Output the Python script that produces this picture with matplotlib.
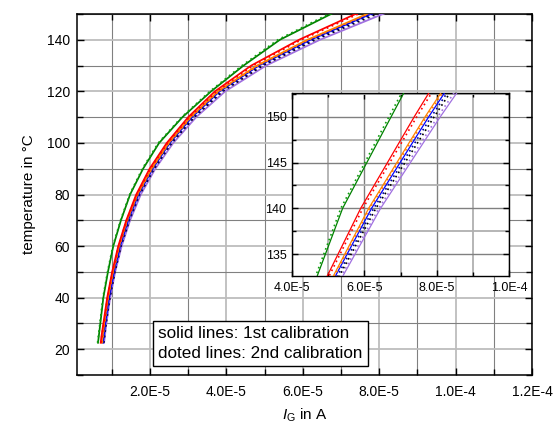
import numpy as np
import matplotlib
matplotlib.use("Agg")
import matplotlib.pyplot as plt
from matplotlib.ticker import MultipleLocator, FuncFormatter

plt.rcParams['font.family'] = ['Liberation Sans', 'DejaVu Sans']
plt.rcParams['mathtext.fontset'] = 'custom'
plt.rcParams['mathtext.rm'] = 'Liberation Sans'
plt.rcParams['mathtext.it'] = 'Liberation Sans:italic'

# temperature samples (°C)
temperature = [22.5, 25, 30, 35, 40, 50, 60, 70, 80, 90, 100, 110, 120, 130, 140, 150, 154]

# I_G in units of 1e-5 A, solid = 1st calibration, dotted = 2nd calibration
green_solid  = [0.64, 0.66, 0.70, 0.74, 0.78, 0.90, 1.04, 1.24, 1.48, 1.82, 2.24, 2.85, 3.60, 4.45, 5.40, 6.74, 7.28]
green_dot    = [0.63, 0.65, 0.69, 0.73, 0.77, 0.89, 1.03, 1.23, 1.47, 1.80, 2.22, 2.83, 3.57, 4.41, 5.35, 6.68, 7.22]
red_solid    = [0.71, 0.73, 0.78, 0.83, 0.88, 1.01, 1.17, 1.38, 1.64, 1.99, 2.44, 3.00, 3.70, 4.65, 5.90, 7.38, 8.00]
red_dot      = [0.72, 0.74, 0.79, 0.84, 0.89, 1.02, 1.18, 1.39, 1.66, 2.01, 2.46, 3.03, 3.74, 4.70, 5.96, 7.45, 8.08]
orange_solid = [0.74, 0.76, 0.80, 0.85, 0.90, 1.03, 1.19, 1.40, 1.67, 2.04, 2.49, 3.06, 3.78, 4.80, 6.12, 7.68, 8.35]
orange_dot   = [0.75, 0.77, 0.81, 0.86, 0.91, 1.04, 1.20, 1.41, 1.68, 2.05, 2.50, 3.08, 3.80, 4.83, 6.15, 7.72, 8.40]
blue_solid   = [0.77, 0.79, 0.83, 0.88, 0.93, 1.06, 1.22, 1.43, 1.70, 2.07, 2.52, 3.10, 3.82, 4.85, 6.20, 7.78, 8.45]
blue_dot     = [0.78, 0.80, 0.84, 0.89, 0.94, 1.07, 1.23, 1.45, 1.72, 2.09, 2.55, 3.13, 3.86, 4.90, 6.26, 7.85, 8.52]
black_dot    = [0.79, 0.81, 0.85, 0.90, 0.95, 1.08, 1.24, 1.46, 1.73, 2.11, 2.57, 3.16, 3.90, 4.95, 6.32, 7.93, 8.60]
purple_solid = [0.80, 0.82, 0.86, 0.91, 0.96, 1.09, 1.26, 1.48, 1.76, 2.14, 2.61, 3.21, 3.97, 5.04, 6.45, 8.10, 8.80]
purple_dot   = [0.79, 0.81, 0.85, 0.90, 0.95, 1.08, 1.25, 1.47, 1.75, 2.13, 2.59, 3.19, 3.94, 5.00, 6.40, 8.03, 8.72]

series = [
    (purple_solid, '#a070e0', '-'),
    (purple_dot, '#a070e0', ':'),
    (black_dot, '#000000', ':'),
    (blue_solid, '#0000ff', '-'),
    (blue_dot, '#0000a0', ':'),
    (orange_solid, '#ff8000', '-'),
    (orange_dot, '#ff8000', ':'),
    (red_solid, '#ff0000', '-'),
    (red_dot, '#ff0000', ':'),
    (green_solid, '#008000', '-'),
    (green_dot, '#10a010', ':'),
]

T = np.array(temperature)

def fmt(x, pos):
    if abs(x) < 1e-12:
        return '0'
    m, e = f"{x:.1E}".split('E')
    return f"{m}E{int(e)}"

fig = plt.figure(figsize=(5.6, 4.24), dpi=100)
ax = fig.add_axes([77/560, 49/424, (532-77)/560, (375-14)/424])

for vals, c, ls in series:
    I = np.array(vals) * 1e-5
    if ls == '-':
        ax.plot(I, T, color=c, lw=1.25, ls='-', zorder=3)
    else:
        ax.plot(I, T, color=c, lw=1.3, ls=(0, (1, 2)), zorder=3)

ax.set_xlim(0.09e-5, 1.2e-4)
ax.set_ylim(10, 150)
ax.xaxis.set_major_locator(MultipleLocator(2e-5))
ax.xaxis.set_minor_locator(MultipleLocator(1e-5))
ax.xaxis.set_major_formatter(FuncFormatter(fmt))
ax.yaxis.set_major_locator(MultipleLocator(20))
ax.yaxis.set_minor_locator(MultipleLocator(10))
ax.set_axisbelow(True)
ax.grid(which='major', color='#bdbdbd', lw=1.3)
ax.grid(which='minor', color='#808080', lw=0.8)
ax.tick_params(which='both', direction='in', top=True, right=True, labelsize=10, width=1)
ax.tick_params(which='major', length=5, pad=7)
ax.tick_params(axis='y', which='major', pad=5)
ax.tick_params(which='minor', length=4)
for s in ax.spines.values():
    s.set_linewidth(1.1)
ax.set_xlabel(r'$I_\mathrm{G}$ in A', fontsize=11, labelpad=6)
ax.set_ylabel('temperature in °C', fontsize=11, labelpad=8)

ax.text(0.179, 0.088, 'solid lines: 1st calibration\ndoted lines: 2nd calibration',
        transform=ax.transAxes, fontsize=12.3, linespacing=1.4, va='center', ha='left',
        bbox=dict(boxstyle='square,pad=0.3', fc='white', ec='black', lw=1), zorder=5)

# inset
ins = fig.add_axes([292/560, 148/424, (509-292)/560, (276-93)/424])
ins.set_facecolor('white')
for vals, c, ls in series:
    I = np.array(vals) * 1e-5
    if ls == '-':
        ins.plot(I, T, color=c, lw=0.9, ls='-', zorder=3)
    else:
        ins.plot(I, T, color=c, lw=1.2, ls=(0, (1, 2)), zorder=3)
ins.set_xlim(4e-5, 1e-4)
ins.set_ylim(132.6, 152.6)
ins.xaxis.set_major_locator(MultipleLocator(2e-5))
ins.xaxis.set_minor_locator(MultipleLocator(1e-5))
ins.xaxis.set_major_formatter(FuncFormatter(fmt))
ins.yaxis.set_major_locator(MultipleLocator(5))
ins.yaxis.set_minor_locator(MultipleLocator(2.5))
ins.set_axisbelow(True)
ins.grid(which='major', color='#808080', lw=1.0)
ins.grid(which='minor', color='#b0b0b0', lw=1.3)
ins.tick_params(which='both', direction='in', top=True, right=True, labelsize=9, width=1)
ins.tick_params(which='major', length=4, pad=4)
ins.tick_params(which='minor', length=3)
for s in ins.spines.values():
    s.set_linewidth(1.0)

fig.savefig('out.png', dpi=100)
